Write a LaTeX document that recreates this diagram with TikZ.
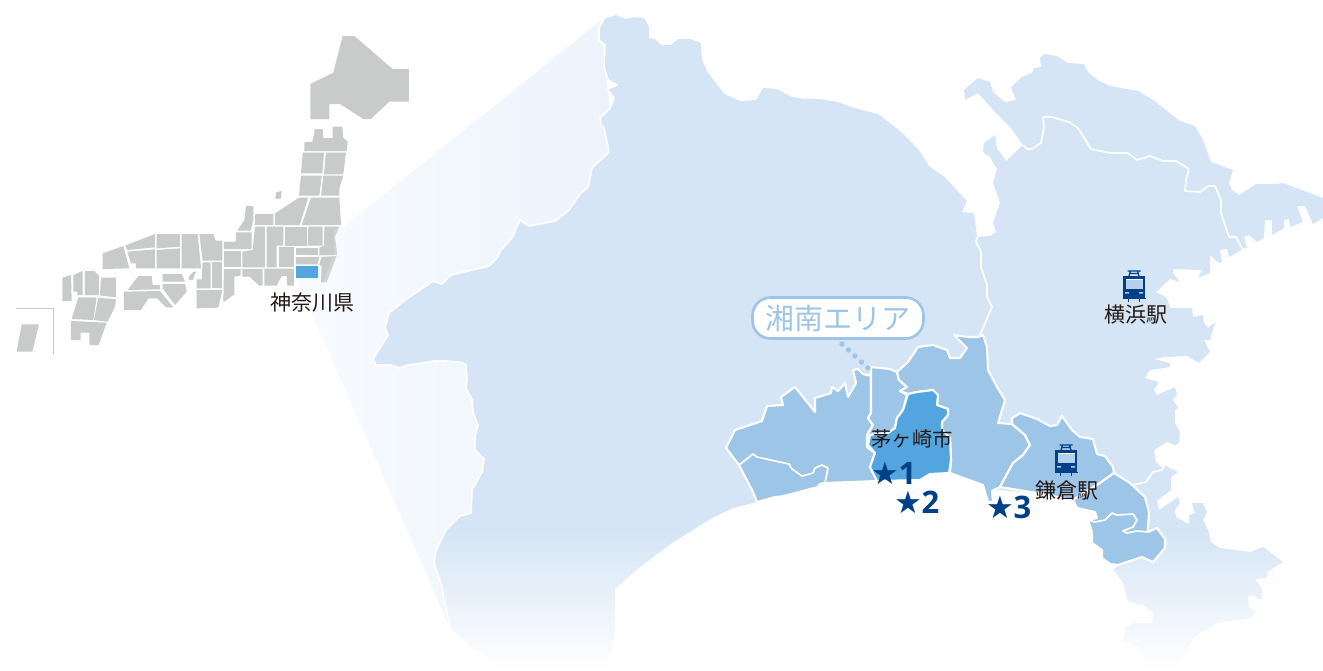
\documentclass[tikz,border=0pt]{standalone}
\usepackage{fontspec}
\setmainfont{Noto Sans CJK JP}
\newfontfamily\starfont{DejaVu Sans}
\newfontfamily\numfont{Open Sans}
\usetikzlibrary{shapes.geometric}
\definecolor{landc}{HTML}{D5E5F5}
\definecolor{areac}{HTML}{9DC5E8}
\definecolor{cityc}{HTML}{52A5DE}
\definecolor{greyc}{HTML}{C9CACA}
\definecolor{navyc}{HTML}{004088}
\definecolor{inkc}{HTML}{231815}
\definecolor{winc}{HTML}{B5D0EC}
\definecolor{coneL}{HTML}{F8FBFE}
\definecolor{coneR}{HTML}{ECF3FC}
\tikzset{
  pref/.style={fill=greyc,draw=none},
  border/.style={draw=white,line width=1.7pt,line join=round},
  area/.style={fill=areac,draw=white,line width=2.1pt,line join=round},
  city/.style={fill=cityc,draw=white,line width=2.1pt,line join=round},
  maplabel/.style={text=inkc,font=\fontsize{21}{22}\selectfont,inner sep=0pt},
  starlabel/.style={text=navyc,inner sep=0pt},
  train/.pic={
    \fill[navyc] (-11,-10) rectangle (11,12);
    \fill[winc] (-8.5,-7) rectangle (8.5,3);
    \fill[white] (-8.5,-7) rectangle (8.5,-5.8);
    \fill[white!70!navyc] (-9,6) rectangle (-5,7.5) (5,6) rectangle (9,7.5);
    \draw[navyc,line width=1.3pt] (-6.5,-15) -- (6.5,-15) (-3.5,-15) -- (-5,-10) (3.5,-15) -- (5,-10) (-4,-12.5) -- (4,-12.5);
    \draw[navyc,line width=1.5pt] (-5.5,12) -- (-5.5,15.5) (5.5,12) -- (5.5,15.5);
    \draw[navyc,line width=1pt] (-11.5,12) -- (11.5,12);
  }
}
\newcommand{\landpath}{(604,19) -- (616,15) -- (626,19) -- (633.5,17) -- (644,18) -- (649,27) -- (649,38) -- (655,39) -- (661,45) -- (671,45) -- (678,39) -- (690,39) -- (701,43) -- (702,60) -- (708,73) -- (724.5,94) -- (740,101) -- (756,100) -- (763,88) -- (777,89) -- (792,97) -- (805,99) -- (820,99) -- (837.5,102) -- (858,109) -- (878,114) -- (899,130) -- (919,150) -- (929,166) -- (944.5,177) -- (967,201) -- (962,212) -- (974,213) -- (977,237) -- (990,236) -- (996,232) -- (993,223) -- (1000,203) -- (993,183) -- (997,169) -- (990,157) -- (983,152) -- (984,143) -- (995,135) -- (997,148) -- (1006,161) -- (1023,145) -- (1011,128) -- (995,112) -- (978,93) -- (965,100) -- (964,90) -- (978,78) -- (990,82) -- (993,92) -- (1005,102) -- (1016,100) -- (1011,87) -- (1022,77) -- (1032,73) -- (1034,68) -- (1041,67) -- (1040,58) -- (1044,54) -- (1057,56) -- (1068,63) -- (1084,64) -- (1088,72) -- (1099,81) -- (1110,86) -- (1138,91) -- (1153,100) -- (1180,121) -- (1195,126) -- (1203,140) -- (1211,162) -- (1233,170) -- (1229,183) -- (1232,190) -- (1239,195) -- (1256,184) -- (1277,184) -- (1283,183) -- (1323,198) -- (1323,218) -- (1313,224) -- (1305,206) -- (1297,206) -- (1303,222) -- (1290,227) -- (1289,219) -- (1284,220) -- (1284,228) -- (1272,235) -- (1272,220) -- (1265,220) -- (1264,238) -- (1257,242) -- (1249,235) -- (1244,237) -- (1247,247) -- (1229,257) -- (1227,249) -- (1220,250) -- (1222,262) -- (1218,263) -- (1210,255) -- (1210,273) -- (1198,278) -- (1202,270) -- (1173,269) -- (1173,273) -- (1180,282) -- (1170,279) -- (1156,292) -- (1167,298) -- (1170,308) -- (1192,308) -- (1193,317) -- (1203,315) -- (1204,323) -- (1208,328) -- (1215,322) -- (1210,340) -- (1204,340) -- (1210,352) -- (1199,363) -- (1187,356) -- (1165,357) -- (1154,359) -- (1170,363) -- (1170,367) -- (1150,370) -- (1145,378) -- (1159,382) -- (1154,390) -- (1157,395) -- (1175,387) -- (1177,395) -- (1173,400) -- (1178,408) -- (1175,410) -- (1175,423) -- (1180,432) -- (1179,443) -- (1175,445) -- (1167,442) -- (1154,450) -- (1156,462) -- (1161,467) -- (1164,465) -- (1178,472) -- (1171,477) -- (1171,490) -- (1157,501) -- (1159,510) -- (1178,497) -- (1180,503) -- (1175,510) -- (1176,517) -- (1189,524) -- (1189,515) -- (1195,513) -- (1192,503) -- (1203,503) -- (1207,512) -- (1203,520) -- (1208,530) -- (1211,542) -- (1220,548) -- (1250,552) -- (1263,547) -- (1283,562) -- (1267,572) -- (1267,578) -- (1255,579) -- (1262,589) -- (1262,599) -- (1258,599) -- (1254,595) -- (1248,596) -- (1249,608) -- (1256,610) -- (1250,618) -- (1217,623) -- (1193,638) -- (1182,660) -- (1183,670) -- (1142,670) -- (1143,657) -- (1140,648) -- (1124,640) -- (1126,627) -- (1135,623) -- (1152,623) -- (1153,613) -- (1143,605) -- (1128,602) -- (1123,583) -- (1110,565) -- (1102,558) -- (1102,550) -- (1092,543) -- (1092,532) -- (1088,520) -- (1097,518) -- (1095,512) -- (1077,508) -- (1073,500) -- (1037,493) -- (1000,490) -- (992,491) -- (993,502) -- (988,502) -- (983,485) -- (950,473) -- (930,474) -- (920,480) -- (877,481) -- (825,483) -- (812,494) -- (775,497) -- (757,502) -- (733,508) -- (712,518) -- (672,543) -- (640,567) -- (615,589) -- (615,632) -- (612,653) -- (615,670) -- (493,670) -- (488,658) -- (472,648) -- (450,627) -- (448,617) -- (444,600) -- (442,587) -- (434,563) -- (436,550) -- (446,530) -- (460,516) -- (471,513) -- (472,490) -- (482,472) -- (484,459) -- (475,450) -- (475,436) -- (478,425) -- (473,413) -- (472,400) -- (466,388) -- (467,380) -- (466,365) -- (460,362) -- (445,361) -- (434,361) -- (423,363) -- (408,365) -- (399,368) -- (391,365) -- (376,365) -- (373,359) -- (388,335) -- (385,328) -- (386.5,322) -- (389,313) -- (405,300) -- (433,281) -- (442,284) -- (451,275) -- (489,266) -- (497,258) -- (501,250) -- (512,238) -- (520,220) -- (529,226) -- (555,221) -- (569,210) -- (580,194) -- (588,187) -- (592,168) -- (609,152) -- (604,128) -- (601,125) -- (600,118) -- (610,108) -- (614,98) -- (607,89) -- (617,85) -- (608,80) -- (604,67) -- (605,45) -- (599,40) -- (599,28) -- cycle}
\begin{document}
\begin{tikzpicture}[x=1pt,y=-1pt]
\path[use as bounding box] (0,0) rectangle (1323,670);
% projection cone
\shade[left color=coneL,right color=coneR] (296,265) -- (600,21) -- (620,200) -- (500,640) -- (450,628) -- (296,278) -- cycle;
% Japan
\begin{scope}[x=.33333pt,y=-.33333pt,shift={(0,-20pt)}]
\fill[pref] (1028,48)--(1063,48)--(1178,147)--(1227,147)--(1227,245)--(1168,245)--(1112,297)--(1090,297)--(1020,252)--(988,252)--(988,297)--(931,297)--(931,192)--(1000,158)--cycle;
\fill[pref] (913,393)--(913,367)--(937,365)--(945,327)--(968,327)--(970,354)--(998,354)--(998,320)--(1027,320)--(1030,354)--(1043,365)--(1040,393)--cycle;
\fill[pref] (908,398)--(972,398)--(967,460)--(903,460)--cycle;
\fill[pref] (978,398)--(1038,398)--(1030,463)--(972,463)--cycle;
\fill[pref] (903,467)--(965,467)--(958,527)--(897,527)--cycle;
\fill[pref] (970,467)--(1030,467)--(1018,505)--(1018,527)--(963,527)--cycle;
\fill[pref] (925,533)--(899,615)--(825,615)--(825,580)--(897,533)--cycle;
\fill[pref] (933,533)--(1018,533)--(1023,615)--(905,615)--cycle;
\fill[pref] (828,517)--(845,513)--(843,535)--(826,537)--cycle;
\fill[pref] (766,582)--(820,582)--(820,615)--(764,615)--cycle;
\fill[pref] (738,558)--(760,558)--(760,600)--(752,632)--(712,632)--(733,600)--cycle;
\fill[pref] (855,620)--(920,620)--(920,677)--(855,677)--cycle;
\fill[pref] (925,620)--(968,620)--(968,677)--(923,677)--cycle;
\fill[pref] (973,620)--(1018,620)--(1005,650)--(1012,705)--(958,705)--(958,683)--(972,677)--cycle;
\fill[pref] (888,683)--(955,683)--(955,705)--(888,705)--cycle;
\fill[pref] (888,711)--(958,711)--(952,733)--(888,733)--cycle;
\fill[pref] (965,711)--(1010,708)--(980,787)--(963,787)--(965,740)--(958,733)--cycle;
\fill[pref] (837,682)--(882,682)--(882,740)--(837,740)--cycle;
\fill[pref] (800,620)--(850,620)--(850,677)--(830,677)--(830,742)--(800,742)--cycle;
\fill[pref] (765,620)--(795,620)--(795,742)--(727,742)--(727,695)--(758,690)--cycle;
\fill[pref] (672,665)--(708,665)--(708,637)--(755,637)--(755,687)--(672,687)--cycle;
\fill[pref] (793,746)--(882,746)--(882,797)--(862,797)--(860,768)--(845,768)--(830,797)--(793,797)--cycle;
\fill[pref] (727,747)--(788,747)--(788,797)--(778,797)--(748,770)--(727,770)--cycle;
\fill[pref] (672,747)--(722,747)--(722,767)--(703,770)--(703,823)--(670,847)--cycle;
\fill[pref] (672,692)--(722,692)--(722,742)--(672,742)--cycle;
\fill[pref] (598,642)--(640,642)--(647,662)--(667,662)--(667,722)--(608,722)--cycle;
\fill[pref] (545,642)--(593,642)--(603,745)--(545,745)--cycle;
\fill[pref] (470,642)--(540,642)--(540,680)--(470,685)--cycle;
\fill[pref] (470,690)--(540,685)--(540,745)--(470,745)--cycle;
\fill[pref] (465,642)--(465,682)--(382,690)--(375,677)--cycle;
\fill[pref] (382,695)--(465,688)--(465,745)--(408,745)--(408,730)--(393,730)--cycle;
\fill[pref] (308,700)--(370,678)--(388,745)--(308,747)--cycle;
\fill[pref] (608,727)--(632,727)--(632,805)--(590,805)--(590,778)--(605,778)--cycle;
\fill[pref] (637,725)--(667,725)--(667,805)--(637,805)--cycle;
\fill[pref] (590,810)--(667,810)--(655,863)--(590,865)--cycle;
\fill[pref] (580,755)--(588,755)--(578,780)--(567,780)--(567,770)--cycle;
\fill[pref] (488,762)--(545,762)--(555,785)--(488,785)--cycle;
\fill[pref] (415,768)--(455,768)--(458,795)--(480,795)--(480,808)--(383,810)--cycle;
\fill[pref] (488,792)--(555,792)--(560,815)--(525,855)--(488,805)--cycle;
\fill[pref] (372,815)--(480,813)--(520,862)--(497,862)--(472,835)--(445,835)--(423,870)--(372,870)--cycle;
\fill[pref] (255,753)--(283,753)--(297,768)--(297,825)--(255,825)--cycle;
\fill[pref] (220,765)--(248,753)--(248,825)--(232,825)--(232,815)--(220,815)--cycle;
\fill[pref] (187,773)--(213,765)--(215,843)--(187,843)--cycle;
\fill[pref] (303,773)--(348,773)--(348,832)--(300,826)--cycle;
\fill[pref] (235,832)--(290,832)--(280,900)--(215,897)--cycle;
\fill[pref] (295,833)--(348,838)--(345,860)--(323,905)--(282,900)--cycle;
\fill[pref] (213,903)--(320,908)--(296,975)--(268,975)--(268,938)--(242,938)--(242,960)--(213,960)--cycle;
\fill[pref] (65,913)--(117,913)--(97,995)--(50,995)--cycle;
\draw[greyc,line width=1.4pt] (47,865)--(160,865)--(160,1003);
\fill[white,opacity=.18] (1002,634)--(1035,607)--(1035,800)--(965,800)--(1002,700)--cycle;
\fill[cityc] (888,738)--(955,738)--(955,773)--(888,773)--cycle;
\end{scope}
% main land with fade towards the south
\begin{scope}
\clip \landpath;
\fill[landc] (360,0) rectangle (1323,531);
\shade[top color=landc,bottom color=white] (360,530) rectangle (1323,671);
\end{scope}
% west prefectural line
\draw[border] (604,19) -- (599,28) -- (599,40) -- (605,45) -- (604,67) -- (608,80) -- (617,85) -- (607,89) -- (614,98) -- (610,108) -- (600,118) -- (601,125) -- (604,128) -- (609,152) -- (592,168) -- (588,187) -- (580,194) -- (569,210) -- (555,221) -- (529,226) -- (520,220) -- (512,238) -- (501,250) -- (497,258) -- (489,266) -- (451,275) -- (442,284) -- (433,281) -- (405,300) -- (389,313) -- (386.5,322) -- (385,328) -- (388,335) -- (373,359) -- (376,365) -- (391,365) -- (399,368) -- (408,365) -- (423,363) -- (434,361) -- (445,361) -- (460,362) -- (466,365) -- (467,380) -- (466,388) -- (472,400) -- (473,413) -- (478,425) -- (475,436) -- (475,450) -- (484,459) -- (482,472) -- (472,490) -- (471,513) -- (460,516) -- (446,530) -- (436,550) -- (434,563) -- (442,587) -- (444,600) -- (448,617) -- (450,627);
% Tokyo line
\draw[border] (1023,145) -- (1027,149) -- (1032,149) -- (1041,143) -- (1044,127) -- (1043,117) -- (1052,117) -- (1069,122) -- (1078,128) -- (1091,149) -- (1110,153) -- (1128,153) -- (1137,160) -- (1150,156) -- (1163,161) -- (1176,161) -- (1189,169) -- (1186,180) -- (1185,191) -- (1200,192) -- (1208,186) -- (1215,186) -- (1221,200) -- (1221,213) -- (1229,237) -- (1236,237) -- (1243,250);
% Yokohama west line
\draw[border] (977,237) -- (976,242) -- (981,252) -- (981,267) -- (987,285) -- (987,297) -- (992,307) -- (980,335);
% Yokosuka line
\draw[border] (1133,485) -- (1146,482) -- (1153,472) -- (1162,470) -- (1164,465);
% Shonan area
\path[area] (726,448) -- (735,430) -- (762,421) -- (767,406) -- (783,405) -- (781,397) -- (795,387) -- (815,412) -- (815,398) -- (831,393) -- (832,387) -- (838,391) -- (845,383) -- (848,397) -- (856,383) -- (853,370) -- (858,369) -- (863,374) -- (871,376) -- (871,413) -- (868,418) -- (873,425) -- (867,435) -- (867,447) -- (875,453) -- (870,467) -- (877,481) -- (825,483) -- (820,484) -- (812,494) -- (775,497) -- (757,502) -- (753,492) -- (739,465) -- cycle;
\draw[border] (739,465) -- (753,454) -- (757,457) -- (789,464) -- (792,469) -- (802,476) -- (813,473) -- (815,468) -- (822,465) -- (828,468) -- (825,483);
\fill[white] (757,502) -- (825,484) -- (877,482) -- (877,490) -- (757,510) -- cycle;
\path[area] (871,367) -- (890,369) -- (897,372) -- (899,380) -- (907,387) -- (900,391) -- (907,395) -- (903,410) -- (897,418) -- (895,428) -- (888,433) -- (870,435) -- (867,435) -- (873,425) -- (868,418) -- (871,413) -- cycle;
\path[area] (897,372) -- (908,362) -- (918,347) -- (933,345) -- (947,350) -- (950,358) -- (960,358) -- (967,348) -- (954,335) -- (968,337) -- (978,337) -- (983,335) -- (987,347) -- (988,370) -- (997,387) -- (1005,400) -- (998,423) -- (1012,424) -- (1025,435) -- (1030,445) -- (1023,455) -- (1013,463) -- (1000,487) -- (992,491) -- (993,502) -- (988,502) -- (983,485) -- (950,473) -- (951,460) -- (950,438) -- (942,430) -- (942,422) -- (948,415) -- (948,409) -- (937,405) -- (938,395) -- (933,390) -- (917,392) -- (908,394) -- (900,391) -- (907,387) -- (899,380) -- cycle;
\path[city] (908,394) -- (917,392) -- (933,390) -- (938,395) -- (937,405) -- (948,409) -- (948,415) -- (942,422) -- (942,430) -- (950,438) -- (951,460) -- (949,473) -- (930,474) -- (920,480) -- (877,481) -- (870,467) -- (875,453) -- (868,445) -- (870,435) -- (888,433) -- (895,428) -- (897,418) -- (903,410) -- cycle;
\path[area] (1000,487) -- (1013,463) -- (1023,455) -- (1030,445) -- (1025,435) -- (1012,424) -- (1012,418) -- (1020,413) -- (1037,419) -- (1050,426) -- (1057,425) -- (1062,416) -- (1072,430) -- (1080,437) -- (1093,439) -- (1097,454) -- (1105,456) -- (1113,467) -- (1114,473) -- (1100,483) -- (1073,500) -- (1037,493) -- cycle;
\path[area] (1114,473) -- (1130,483) -- (1145,497) -- (1149,512) -- (1148,527) -- (1148,532) -- (1157,528) -- (1165,539) -- (1165,548) -- (1153,562) -- (1142,557) -- (1118,565) -- (1110,564) -- (1102,558) -- (1102,550) -- (1092,543) -- (1092,532) -- (1088,520) -- (1097,518) -- (1095,512) -- (1077,508) -- (1073,500) -- (1100,483) -- cycle;
\draw[border] (1088,520) -- (1095,522) -- (1105,520) -- (1112,513) -- (1117,515) -- (1133,514) -- (1137,520) -- (1133,527) -- (1123,531) -- (1127,533) -- (1137,531) -- (1148,532);
\fill[white] (1100,560) -- (1118,566) -- (1108,573) -- cycle;
% connector and labels
\coordinate (dotA) at (842,344);
\coordinate (dotB) at (868,368);
\draw[areac,line width=5.4pt,line cap=round,dash pattern=on 0pt off 8.84pt] (dotA) -- (dotB);
\node[draw=areac,line width=2.6pt,fill=white,rounded corners=18pt,minimum width=171pt,minimum height=41pt,inner sep=0pt,text=areac,font=\fontsize{29}{30}\selectfont] (shonan) at (838,318) {湘南エリア};
\node[maplabel] (kanagawa) at (312,303) {神奈川県};
\node[maplabel,font=\fontsize{20.3}{22}\selectfont] (chigasaki) at (912,439) {茅ヶ崎市};
\node[maplabel] (yokohama) at (1136,315) {横浜駅};
\node[maplabel] (kamakura) at (1067,491) {鎌倉駅};
\pic at (1134,286) {train};
\pic at (1066,460) {train};
\node[starlabel] (s1) at (894,473) {{\starfont\fontsize{31}{32}\selectfont ★}{\hspace{-1pt}\numfont\bfseries\fontsize{31}{32}\selectfont 1}};
\node[starlabel] (s2) at (917,502) {{\starfont\fontsize{31}{32}\selectfont ★}{\hspace{-1pt}\numfont\bfseries\fontsize{31}{32}\selectfont 2}};
\node[starlabel] (s3) at (1009,507) {{\starfont\fontsize{31}{32}\selectfont ★}{\hspace{-1pt}\numfont\bfseries\fontsize{31}{32}\selectfont 3}};
\end{tikzpicture}
\end{document}
